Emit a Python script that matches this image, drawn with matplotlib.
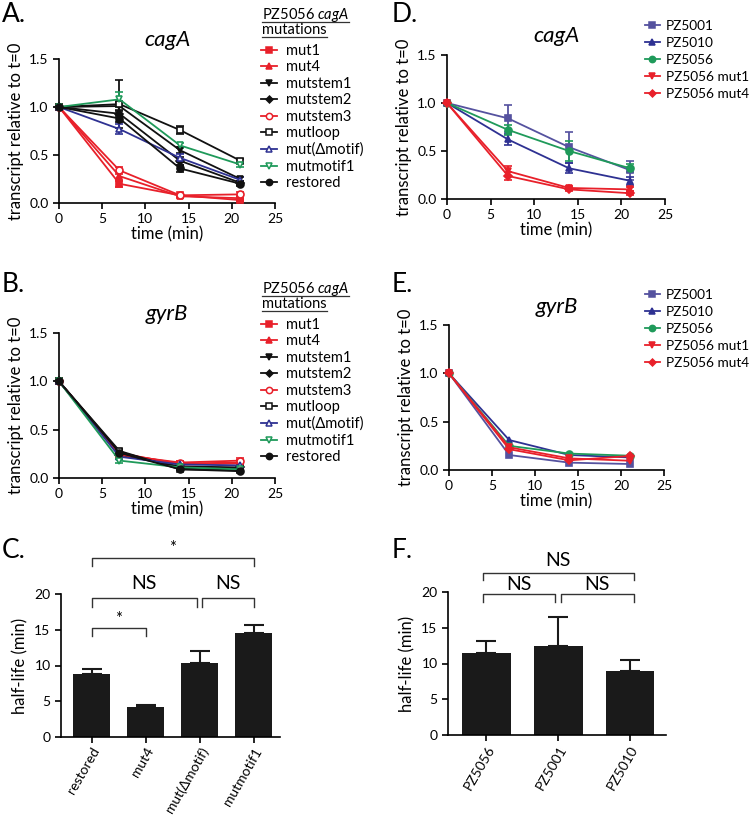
import matplotlib
matplotlib.use('Agg')
import matplotlib.pyplot as plt
from matplotlib.lines import Line2D

plt.rcParams['font.family'] = ['Lato', 'DejaVu Sans']
plt.rcParams['mathtext.fontset'] = 'custom'
plt.rcParams['mathtext.it'] = 'Lato:italic'
plt.rcParams['mathtext.rm'] = 'Lato'
plt.rcParams['axes.linewidth'] = 1.2
plt.rcParams['xtick.major.width'] = 1.2
plt.rcParams['ytick.major.width'] = 1.2
plt.rcParams['xtick.major.size'] = 4
plt.rcParams['ytick.major.size'] = 4
plt.rcParams['xtick.labelsize'] = 10
plt.rcParams['ytick.labelsize'] = 10

RED = '#e8202a'
BLUE = '#2e3192'
GREEN = '#1f9a5a'
BLACK = '#111111'
SLATE = '#55529f'

times = [0, 7, 14, 21]

# panel A / B series: mutants of PZ5056
mut_names = ['mut1', 'mut4', 'mutstem1', 'mutstem2', 'mutstem3', 'mutloop',
             'mut(\u0394motif)', 'mutmotif1', 'restored']
mut_colors = [RED, RED, BLACK, BLACK, RED, BLACK, BLUE, GREEN, BLACK]
mut_markers = ['s', '^', 'v', 'D', 'o', 's', '^', 'v', 'o']
mut_filled = [True, True, True, True, False, False, False, False, True]

cagA_mut = [
    [1, 0.20, 0.08, 0.03],
    [1, 0.28, 0.07, 0.05],
    [1, 1.01, 0.55, 0.25],
    [1, 0.93, 0.44, 0.21],
    [1, 0.34, 0.08, 0.09],
    [1, 1.03, 0.76, 0.44],
    [1, 0.77, 0.47, 0.24],
    [1, 1.08, 0.60, 0.40],
    [1, 0.88, 0.36, 0.20],
]
cagA_mut_err = [
    [0, 0.03, 0.01, 0.01],
    [0, 0.04, 0.01, 0.01],
    [0, 0.04, 0.03, 0.02],
    [0, 0.03, 0.04, 0.02],
    [0, 0.04, 0.01, 0.02],
    [0, 0.25, 0.04, 0.02],
    [0, 0.05, 0.04, 0.03],
    [0, 0.08, 0.03, 0.02],
    [0, 0.04, 0.04, 0.02],
]
gyrB_mut = [
    [1, 0.25, 0.15, 0.16],
    [1, 0.26, 0.14, 0.15],
    [1, 0.27, 0.10, 0.10],
    [1, 0.24, 0.12, 0.11],
    [1, 0.24, 0.16, 0.18],
    [1, 0.28, 0.09, 0.08],
    [1, 0.22, 0.14, 0.13],
    [1, 0.18, 0.11, 0.09],
    [1, 0.26, 0.09, 0.07],
]
gyrB_mut_err = [
    [0, 0.02, 0.02, 0.03],
    [0, 0.02, 0.02, 0.02],
    [0, 0.02, 0.01, 0.01],
    [0, 0.02, 0.01, 0.01],
    [0, 0.02, 0.02, 0.03],
    [0, 0.02, 0.01, 0.01],
    [0, 0.02, 0.01, 0.01],
    [0, 0.02, 0.01, 0.01],
    [0, 0.02, 0.01, 0.01],
]

# panel D / E series: strains
strain_names = ['PZ5001', 'PZ5010', 'PZ5056', 'PZ5056 mut1', 'PZ5056 mut4']
strain_colors = [SLATE, BLUE, GREEN, RED, RED]
strain_markers = ['s', '^', 'o', 'v', 'D']
cagA_strain = [
    [1, 0.84, 0.54, 0.30],
    [1, 0.62, 0.32, 0.19],
    [1, 0.72, 0.50, 0.32],
    [1, 0.29, 0.115, 0.10],
    [1, 0.24, 0.10, 0.06],
]
cagA_strain_err = [
    [0, 0.14, 0.16, 0.10],
    [0, 0.06, 0.05, 0.04],
    [0, 0.05, 0.10, 0.04],
    [0, 0.05, 0.02, 0.02],
    [0, 0.04, 0.02, 0.02],
]
gyrB_strain = [
    [1, 0.155, 0.076, 0.062],
    [1, 0.31, 0.155, 0.13],
    [1, 0.25, 0.17, 0.148],
    [1, 0.235, 0.12, 0.096],
    [1, 0.215, 0.10, 0.145],
]

# half-life bar panels
c_labels = ['restored', 'mut4', 'mut(\u0394motif)', 'mutmotif1']
c_values = [8.8, 4.2, 10.4, 14.6]
c_errors = [0.7, 0.3, 1.65, 1.05]
f_labels = ['PZ5056', 'PZ5001', 'PZ5010']
f_values = [11.5, 12.5, 8.9]
f_errors = [1.7, 4.05, 1.55]

W, H = 750, 818
fig = plt.figure(figsize=(7.5, 8.18), dpi=100)


def axes_px(left, top, right, bottom):
    return fig.add_axes([left / W, 1 - bottom / H, (right - left) / W, (bottom - top) / H])


def style(ax):
    ax.spines['top'].set_visible(False)
    ax.spines['right'].set_visible(False)
    ax.tick_params(direction='out')


def time_panel(ax, data, errs, colors, markers, filled, title):
    for i in range(len(data)):
        face = colors[i] if filled[i] else 'white'
        e = errs[i] if errs is not None else None
        ax.errorbar(times, data[i], yerr=e, color=colors[i], marker=markers[i],
                    markersize=5 if markers[i] != 'D' else 4, markerfacecolor=face,
                    markeredgecolor=colors[i], markeredgewidth=1.2, lw=1.3,
                    capsize=3, elinewidth=1.3, capthick=1.3, clip_on=False, zorder=3)
    ax.set_xlim(0, 25)
    ax.set_ylim(0, 1.5)
    ax.set_xticks([0, 5, 10, 15, 20, 25])
    ax.set_yticks([0, 0.5, 1.0, 1.5])
    ax.set_yticklabels(['0.0', '0.5', '1.0', '1.5'])
    ax.set_xlabel('time (min)', fontsize=12, labelpad=1)
    ax.set_ylabel('transcript relative to t=0', fontsize=12, labelpad=4)
    ax.set_title(title, fontsize=16, style='italic', pad=9)
    style(ax)


def proxies(names, colors, markers, filled):
    hs = []
    for i in range(len(names)):
        face = colors[i] if filled[i] else 'white'
        hs.append(Line2D([], [], color=colors[i], marker=markers[i], lw=1.3,
                         markersize=4.5 if markers[i] != 'D' else 3.5,
                         markerfacecolor=face, markeredgecolor=colors[i],
                         markeredgewidth=1.1))
    return hs


def bar_panel(ax, labels, values, errors, xlim):
    pos = list(range(len(values)))
    ax.bar(pos, values, width=0.68, color='#1a1a1a', zorder=2)
    ax.errorbar(pos, values, yerr=[[0] * len(errors), errors], fmt='none',
                ecolor='#1a1a1a', capsize=7, elinewidth=1.5, capthick=1.5, zorder=1)
    ax.set_xlim(*xlim)
    ax.set_ylim(0, 20)
    ax.set_yticks([0, 5, 10, 15, 20])
    ax.set_xticks(pos)
    ax.set_xticklabels(labels, rotation=60, ha='right', rotation_mode='anchor', fontsize=10)
    ax.tick_params(axis='x', pad=2)
    ax.set_ylabel('half-life (min)', fontsize=12, labelpad=4)
    style(ax)


def bracket(ax, x0, x1, y, drop, text, ty, fs):
    ax.plot([x0, x0, x1, x1], [y - drop, y, y, y - drop], color='#333333', lw=1.0,
            clip_on=False)
    ax.text((x0 + x1) / 2, ty, text, ha='center', va='center', fontsize=fs)


# A
axA = axes_px(59, 59, 275, 203)
time_panel(axA, cagA_mut, cagA_mut_err, mut_colors, mut_markers, mut_filled, 'cagA')
# B
axB = axes_px(59, 333, 275, 478)
time_panel(axB, gyrB_mut, gyrB_mut_err, mut_colors, mut_markers, mut_filled, 'gyrB')
# D
axD = axes_px(447, 55, 665, 199)
time_panel(axD, cagA_strain, cagA_strain_err, strain_colors, strain_markers, [True] * 5, 'cagA')
# E
axE = axes_px(449, 325, 664, 470)
time_panel(axE, gyrB_strain, None, strain_colors, strain_markers, [True] * 5, 'gyrB')

# mutant legends with underlined header
for top_px in [44, 318]:
    fig.legend(handles=proxies(mut_names, mut_colors, mut_markers, mut_filled),
               labels=mut_names, loc='upper left', bbox_to_anchor=(261 / W, 1 - top_px / H),
               frameon=False, fontsize=10.5, handlelength=1.1, handletextpad=0.6,
               labelspacing=0.17, borderpad=0, borderaxespad=0)
hdr = []
for y1 in [15, 289]:
    t1 = fig.text(262 / W, 1 - y1 / H, 'PZ5056 $\\it{cagA}$', fontsize=10.5, va='center')
    t2 = fig.text(262 / W, 1 - (y1 + 15) / H, 'mutations', fontsize=10.5, va='center')
    hdr.append((t1, y1 + 7))
    hdr.append((t2, y1 + 22))

for top_px in [20, 289]:
    fig.legend(handles=proxies(strain_names, strain_colors, strain_markers, [True] * 5),
               labels=strain_names, loc='upper left', bbox_to_anchor=(645 / W, 1 - top_px / H),
               frameon=False, fontsize=9.8, handlelength=1.1, handletextpad=0.45,
               labelspacing=0.36, borderpad=0, borderaxespad=0)

# C
axC = axes_px(61, 594, 280, 737)
bar_panel(axC, c_labels, c_values, c_errors, (-0.57, 3.49))
bracket(axC, 0, 1, 15.2, 1.1, '*', 16.5, 12)
bracket(axC, 0, 1.95, 19.5, 1.3, 'NS', 21.4, 14)
bracket(axC, 2.05, 3, 19.5, 1.3, 'NS', 21.4, 14)
bracket(axC, 0, 3, 25.0, 1.1, '*', 26.4, 12)
# F
axF = axes_px(448, 592, 666, 735)
bar_panel(axF, f_labels, f_values, f_errors, (-0.53, 2.5))
bracket(axF, -0.05, 0.96, 19.7, 1.1, 'NS', 21.0, 14)
bracket(axF, 1.04, 2.05, 19.7, 1.1, 'NS', 21.0, 14)
bracket(axF, -0.05, 2.05, 22.7, 1.0, 'NS', 24.4, 14)

# panel letters
for lab, x, y in [('A.', 2, 14), ('B.', 2, 284), ('C.', 2, 551),
                  ('D.', 392, 14), ('E.', 392, 284), ('F.', 392, 551)]:
    fig.text(x / W, 1 - y / H, lab, fontsize=19, va='center')

# underline the legend headers
fig.canvas.draw()
r = fig.canvas.get_renderer()
for t, uy in hdr:
    bb = t.get_window_extent(r)
    fig.add_artist(Line2D([bb.x0 / W, bb.x1 / W], [1 - uy / H, 1 - uy / H],
                          transform=fig.transFigure, color='#333333', lw=0.9))

fig.savefig('out.png', dpi=100)
